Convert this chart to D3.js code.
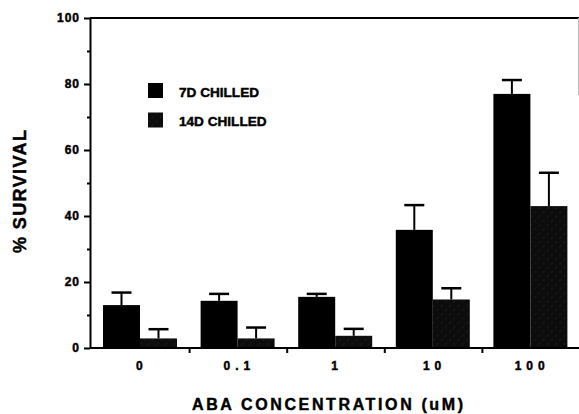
<!DOCTYPE html>
<html>
<head>
<meta charset="utf-8">
<script src="https://cdn.jsdelivr.net/npm/d3@7"></script>
<style>
  body { margin: 0; background: #fff; }
  svg { display: block; font-family: "Liberation Sans", Arial, sans-serif; font-weight: bold; }
  svg text { stroke: #000; stroke-width: 0.45px; fill: #000; }
</style>
</head>
<body>
<div id="chart"></div>
<script>
// values
var categories = ["0", "0.1", "1", "10", "100"];
var seriesNames = ["7D CHILLED", "14D CHILLED"];
var chilled7 = [13.0, 14.3, 15.5, 35.8, 77.0];
var chilled7Err = [3.8, 2.1, 0.9, 7.5, 4.2];
var chilled14 = [2.9, 2.9, 3.7, 14.7, 43.0];
var chilled14Err = [2.8, 3.3, 2.1, 3.4, 10.1];
var yTicks = [0, 20, 40, 60, 80, 100];
var yMinorTicks = [10, 30, 50, 70, 90];

var svgWidth = 579;
var svgHeight = 414;

var svg = d3.select("#chart")
  .append("svg")
  .attr("width", svgWidth)
  .attr("height", svgHeight);

// hatched fill for the 14D bars (very dark, faint texture)
var defs = svg.append("defs");
var pat = defs.append("pattern")
  .attr("id", "hatch")
  .attr("patternUnits", "userSpaceOnUse")
  .attr("width", 6)
  .attr("height", 6)
  .attr("patternTransform", "rotate(45)");
pat.append("rect").attr("width", 6).attr("height", 6).attr("fill", "#0c0c0c");
pat.append("line")
  .attr("x1", 0).attr("y1", 0).attr("x2", 0).attr("y2", 6)
  .attr("stroke", "#3a3a3a")
  .attr("stroke-width", 0.7)
  .attr("stroke-dasharray", "1.5,3");

var y = d3.scaleLinear().domain([0, 100]).range([348, 18]);
var x = d3.scaleBand().domain(categories).range([92, 580]);
var xs = d3.scaleBand().domain(seriesNames).range([11, 85]);

// table built from the arrays
var rows = categories.map(function(c, i) {
  return [
    { cat: c, name: seriesNames[0], value: chilled7[i], err: chilled7Err[i] },
    { cat: c, name: seriesNames[1], value: chilled14[i], err: chilled14Err[i] }
  ];
});
var flat = [].concat.apply([], rows);

function fillFor(name) {
  return name === seriesNames[0] ? "#000" : "url(#hatch)";
}

// bars
svg.append("g").selectAll("rect")
  .data(flat)
  .enter()
  .append("rect")
  .attr("x", function(d) { return x(d.cat) + xs(d.name); })
  .attr("y", function(d) { return y(d.value); })
  .attr("width", xs.bandwidth())
  .attr("height", function(d) { return y(0) - y(d.value); })
  .attr("fill", function(d) { return fillFor(d.name); });

// error bars
var eb = svg.append("g").attr("stroke", "#000");
eb.selectAll("line.stem")
  .data(flat)
  .enter()
  .append("line")
  .attr("class", "stem")
  .attr("x1", function(d) { return x(d.cat) + xs(d.name) + xs.bandwidth() / 2; })
  .attr("x2", function(d) { return x(d.cat) + xs(d.name) + xs.bandwidth() / 2; })
  .attr("y1", function(d) { return y(d.value); })
  .attr("y2", function(d) { return y(d.value + d.err); })
  .attr("stroke-width", 2);
eb.selectAll("line.cap")
  .data(flat)
  .enter()
  .append("line")
  .attr("class", "cap")
  .attr("x1", function(d) { return x(d.cat) + xs(d.name) + xs.bandwidth() / 2 - 10; })
  .attr("x2", function(d) { return x(d.cat) + xs(d.name) + xs.bandwidth() / 2 + 10; })
  .attr("y1", function(d) { return y(d.value + d.err); })
  .attr("y2", function(d) { return y(d.value + d.err); })
  .attr("stroke-width", 2.5);

// y axis
var leftAxis = d3.axisLeft(y).tickValues(yTicks).tickSize(6).tickSizeOuter(0).tickPadding(4);
var yAxisG = svg.append("g")
  .attr("transform", "translate(90,0)")
  .call(leftAxis);
yAxisG.select(".domain").attr("stroke-width", 2);
yAxisG.selectAll(".tick line").attr("stroke-width", 2);
yAxisG.selectAll("text")
  .attr("font-size", 12)
  .attr("font-family", "Liberation Sans, Arial, sans-serif")
  .attr("font-weight", "bold")
  .attr("letter-spacing", 1);

var minorAxis = d3.axisLeft(y).tickValues(yMinorTicks).tickSize(3).tickSizeOuter(0).tickFormat("");
var minorG = svg.append("g")
  .attr("transform", "translate(90,0)")
  .call(minorAxis);
minorG.select(".domain").remove();
minorG.selectAll(".tick line").attr("stroke-width", 2);

// frame top and right edge
svg.append("line")
  .attr("x1", 90).attr("x2", 579)
  .attr("y1", y(100)).attr("y2", y(100))
  .attr("stroke", "#000").attr("stroke-width", 2);
svg.append("line")
  .attr("x1", 578.5).attr("x2", 578.5)
  .attr("y1", y(100)).attr("y2", 95)
  .attr("stroke", "#bbb").attr("stroke-width", 1);

// x axis
svg.append("line")
  .attr("x1", 90).attr("x2", 579)
  .attr("y1", y(0)).attr("y2", y(0))
  .attr("stroke", "#000").attr("stroke-width", 2);
svg.append("g").selectAll("line")
  .data(categories.slice(1))
  .enter()
  .append("line")
  .attr("x1", function(d) { return x(d); })
  .attr("x2", function(d) { return x(d); })
  .attr("y1", y(0))
  .attr("y2", y(0) + 5)
  .attr("stroke", "#000")
  .attr("stroke-width", 2);

var bottomAxis = d3.axisBottom(x).tickSize(0).tickPadding(13.5);
var xAxisG = svg.append("g")
  .attr("transform", "translate(0," + y(0) + ")")
  .call(bottomAxis);
xAxisG.select(".domain").remove();
xAxisG.selectAll("text")
  .attr("font-size", 12)
  .attr("font-family", "Liberation Sans, Arial, sans-serif")
  .attr("font-weight", "bold")
  .attr("letter-spacing", 5)
  .attr("dx", 1);

// axis titles
svg.append("text")
  .attr("transform", "translate(20,253) rotate(-90)")
  .attr("dy", "0.35em")
  .attr("font-size", 18)
  .attr("textLength", 123)
  .attr("lengthAdjust", "spacing")
  .text("% SURVIVAL");

svg.append("text")
  .attr("x", 192)
  .attr("y", 410)
  .attr("font-size", 16)
  .attr("textLength", 271)
  .attr("lengthAdjust", "spacing")
  .text("ABA CONCENTRATION (uM)");

// legend
var legend = svg.append("g").selectAll("g")
  .data(seriesNames)
  .enter()
  .append("g")
  .attr("transform", function(d, i) { return "translate(148," + (83 + i * 29.5) + ")"; });
legend.append("rect")
  .attr("width", 15)
  .attr("height", 15)
  .attr("fill", function(d) { return fillFor(d); });
legend.append("text")
  .attr("x", 31)
  .attr("y", 13.5)
  .attr("font-size", 13.6)
  .text(function(d) { return d; });
</script>
</body>
</html>
